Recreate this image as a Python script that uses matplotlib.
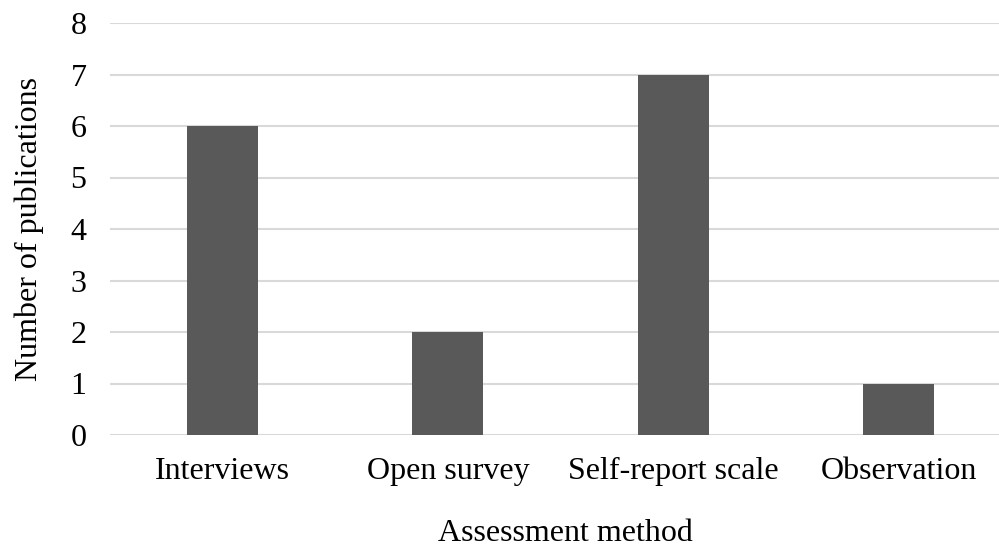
import matplotlib
matplotlib.use("Agg")
import matplotlib.pyplot as plt

methods = ["Interviews", "Open survey", "Self-report scale", "Observation"]
publications = [6, 2, 7, 1]
y_ticks = [0, 1, 2, 3, 4, 5, 6, 7, 8]

plt.rcParams["font.family"] = ["Liberation Serif", "DejaVu Serif"]

W, H = 999, 548
fig = plt.figure(figsize=(W / 100, H / 100), dpi=100)
left, right, top, bottom = 110, 999, 23, 435
ax = fig.add_axes([left / W, 1 - bottom / H, (right - left) / W, (bottom - top) / H])

x = list(range(len(methods)))
ax.bar(x, publications, width=0.315, color="#595959", zorder=3)

unit = 225.3
ax.set_xlim(-0.5, -0.5 + (right - left) / unit)
ax.set_ylim(0, 8)
ax.set_yticks(y_ticks)
ax.set_yticklabels([str(v) for v in y_ticks])
ax.set_xticks(x)
ax.set_xticklabels(methods)

ax.yaxis.grid(True, color="#d9d9d9", linewidth=1.5, zorder=0)
ax.set_axisbelow(True)
for s in ax.spines.values():
    s.set_visible(False)
ax.tick_params(axis="both", length=0, labelsize=23, colors="black")
ax.tick_params(axis="y", pad=17)
ax.tick_params(axis="x", pad=16)

ax.set_ylabel("Number of publications", fontsize=23, labelpad=19)
ax.set_xlabel("Assessment method", fontsize=23)
ax.xaxis.set_label_coords((565 - left) / (right - left), -(519 - bottom) / (bottom - top))

fig.savefig("out.png", dpi=100, facecolor="white")
